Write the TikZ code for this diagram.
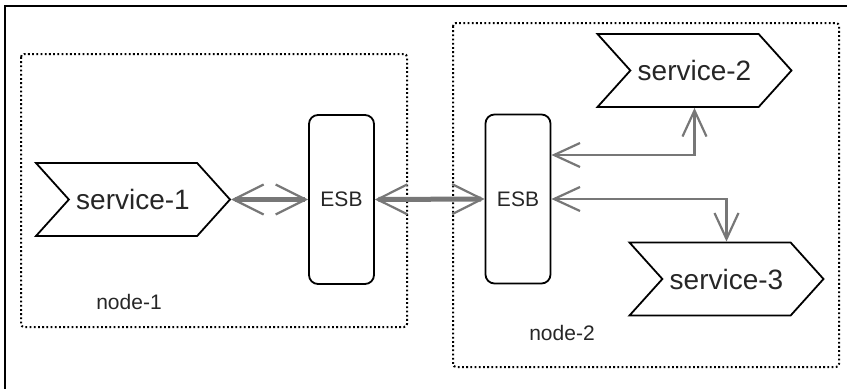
\documentclass[tikz,border=0pt]{standalone}
\usepackage{fontspec}
\setmainfont{Liberation Sans}
\usepackage{tikz}
\usetikzlibrary{shapes.symbols}
\usetikzlibrary{arrows.meta}
\usepackage{xcolor}
\definecolor{linkgray}{HTML}{777777}

\begin{document}
\begin{tikzpicture}[x=1pt,y=-1pt,
service/.style={signal,signal from=west,signal to=east,signal pointer angle=96,draw,line width=1.8pt,inner sep=0,minimum width=194pt,minimum height=73pt,text=black!85,font=\fontsize{28}{30}\selectfont},
esb/.style={rectangle,rounded corners=9pt,draw,line width=1.8pt,minimum width=65pt,minimum height=169pt,text=black!85,font=\fontsize{21}{24}\selectfont},
hostbox/.style={draw,line width=2pt,dash pattern=on 1.8pt off 2.4pt,rounded corners=3pt},
hostlabel/.style={text=black!85,font=\fontsize{21}{24}\selectfont},
bigpipe/.style={draw=linkgray,line width=5pt,{Straight Barb[length=30pt,width=30pt,line width=2.2pt]}-{Straight Barb[length=30pt,width=30pt,line width=2.2pt]}},
smallpipe/.style={draw=linkgray,line width=2.4pt,{Straight Barb[length=26pt,width=24pt,line width=2.2pt]}-{Straight Barb[length=26pt,width=24pt,line width=2.2pt]}}]
\useasboundingbox (0,0) rectangle (847,389);
\draw[line width=1.8pt] (847,6) -| (5,389);

\draw[hostbox] (21,54) rectangle (407,327);
\draw[hostbox] (453,23) rectangle (839,367);
\node [hostlabel] (label-1) at (129,302) {node-1};
\node [hostlabel] (label-2) at (562,333) {node-2};

\node [service] (service-1) at (133,199.5) {service-1};
\node [service] (service-2) at (694.5,70.5) {service-2};
\node [service] (service-3) at (726.5,279) {service-3};

\node [esb] (esb-1) at (341.5,199.5) {ESB};
\node [esb] (esb-2) at (518,199) {ESB};

\draw [bigpipe] (service-1.east)--(esb-1.west);
\draw [bigpipe] (esb-1.east)--(esb-2.west);
\draw [smallpipe] ([yshift=44pt]esb-2.east) -| (service-2.south);
\draw [smallpipe] (esb-2.east) -| (service-3.north);
\end{tikzpicture}
\end{document}
